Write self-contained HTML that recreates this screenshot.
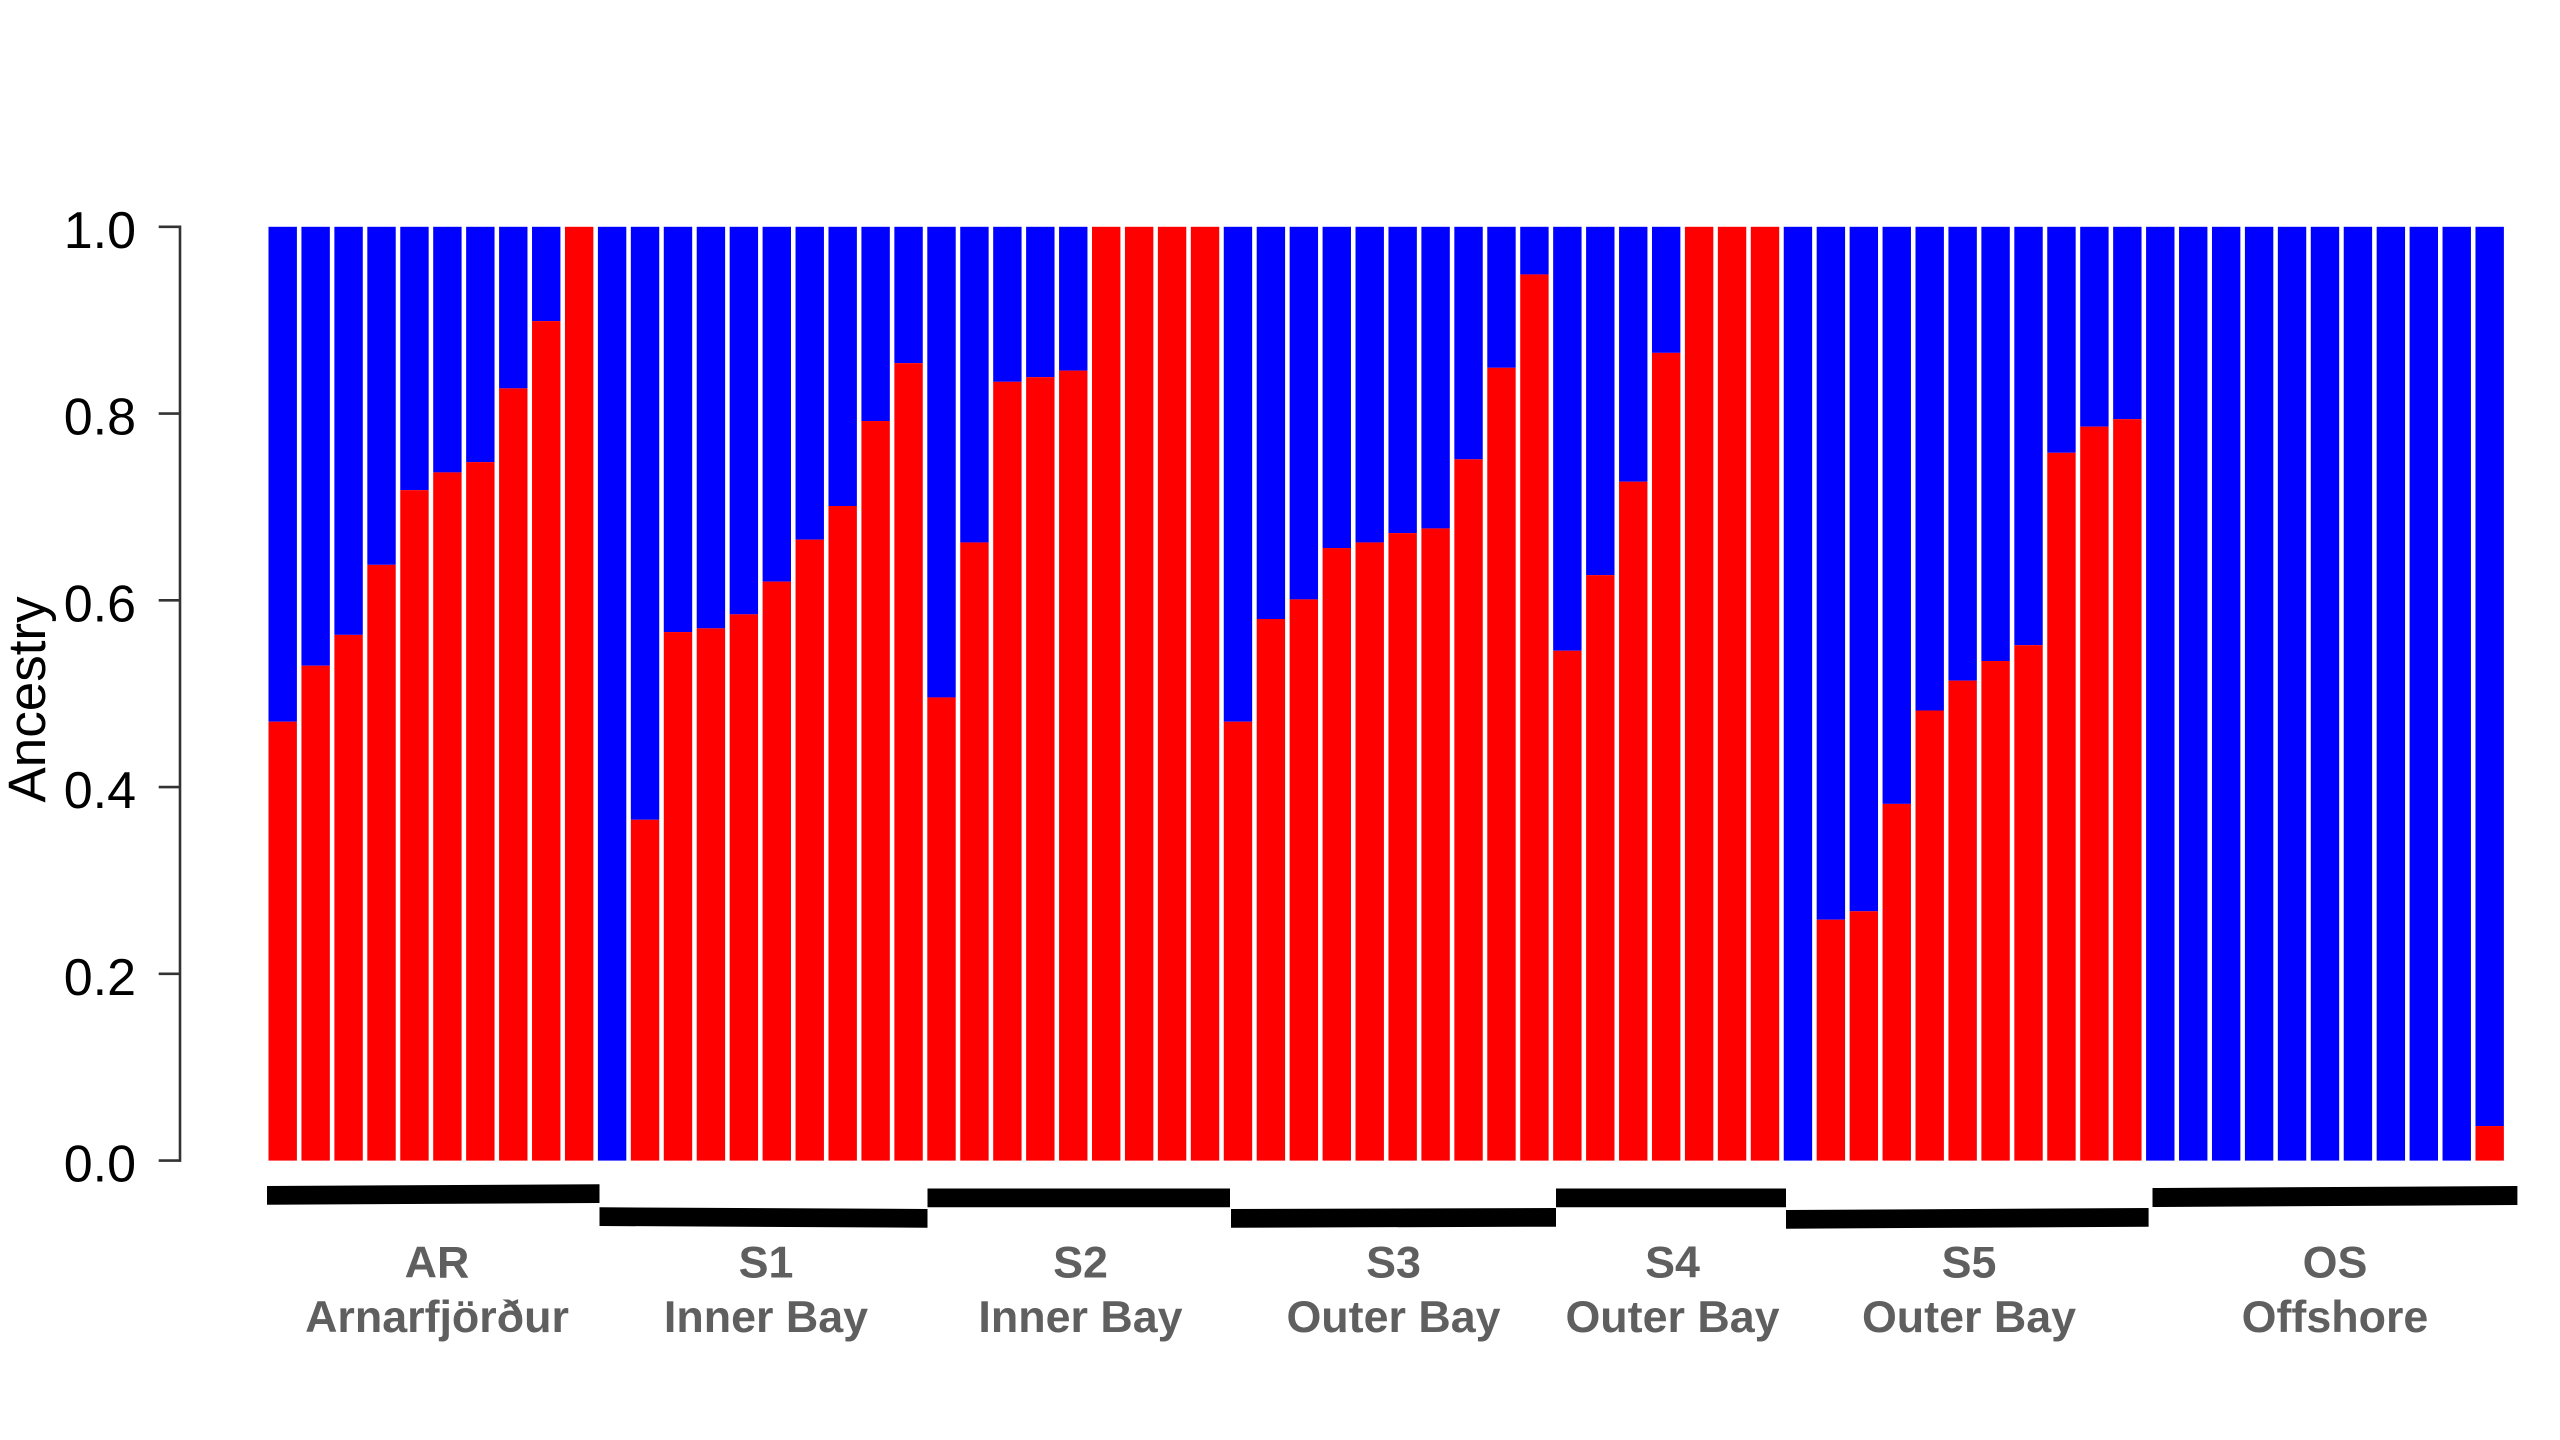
<!DOCTYPE html>
<html lang="en">
<head>
<meta charset="utf-8">
<title>Ancestry proportions by sampling location</title>
<style>
html,body{margin:0;padding:0;background:#fff;width:2560px;height:1440px;overflow:hidden}
svg{display:block;font-family:"Liberation Sans",sans-serif}
.tick-label{font-size:52px;fill:#000}
.group-label{font-size:44.8px;font-weight:bold;fill:#5f5f5f;text-anchor:middle}
</style>
</head>
<body>
<svg id="chart" width="2560" height="1440" viewBox="0 0 2560 1440" xmlns="http://www.w3.org/2000/svg">
  <rect x="0" y="0" width="2560" height="1440" fill="#fff"/>
  <g id="bars"></g>
  <g id="axis"></g>
  <text transform="translate(45,699.5) rotate(-90)" text-anchor="middle" font-size="53" fill="#000">Ancestry</text>
  <g fill="#000">
    <polygon points="267,1186 599.5,1184.3 599.5,1203 267,1204.7"/>
    <polygon points="599.5,1207.3 927.5,1209 927.5,1227.7 599.5,1226"/>
    <polygon points="927.5,1188.5 1230,1188.5 1230,1207.2 927.5,1207.2"/>
    <polygon points="1231,1209 1556,1208 1556,1226.7 1231,1227.7"/>
    <polygon points="1556,1188.5 1786,1188.5 1786,1207.2 1556,1207.2"/>
    <polygon points="1786,1210 2148.6,1208 2148.6,1226.7 1786,1228.7"/>
    <polygon points="2152.5,1188 2517.4,1186 2517.4,1205 2152.5,1207"/>
  </g>
  <g>
    <text class="group-label" x="437" y="1277.5">AR</text>
    <text class="group-label" x="437" y="1332">Arnarfjörður</text>
    <text class="group-label" x="766" y="1277.5">S1</text>
    <text class="group-label" x="766" y="1332">Inner Bay</text>
    <text class="group-label" x="1080.5" y="1277.5">S2</text>
    <text class="group-label" x="1080.5" y="1332">Inner Bay</text>
    <text class="group-label" x="1393.5" y="1277.5">S3</text>
    <text class="group-label" x="1393.5" y="1332">Outer Bay</text>
    <text class="group-label" x="1672.5" y="1277.5">S4</text>
    <text class="group-label" x="1672.5" y="1332">Outer Bay</text>
    <text class="group-label" x="1969" y="1277.5">S5</text>
    <text class="group-label" x="1969" y="1332">Outer Bay</text>
    <text class="group-label" x="2335" y="1277.5">OS</text>
    <text class="group-label" x="2335" y="1332">Offshore</text>
  </g>
</svg>
<script>
// Red ancestry proportion per individual, by sampling group. Blue is the remainder.
const redAR = [0.47, 0.53, 0.563, 0.638, 0.718, 0.737, 0.748, 0.827, 0.899, 1];
const redS1 = [0, 0.365, 0.566, 0.57, 0.585, 0.62, 0.665, 0.701, 0.792, 0.854];
const redS2 = [0.496, 0.662, 0.834, 0.839, 0.846, 1, 1, 1, 1];
const redS3 = [0.47, 0.58, 0.601, 0.656, 0.662, 0.672, 0.677, 0.751, 0.849, 0.949];
const redS4 = [0.546, 0.627, 0.727, 0.865, 1, 1, 1];
const redS5 = [0, 0.258, 0.267, 0.382, 0.482, 0.514, 0.535, 0.552, 0.758, 0.786, 0.794];
const redOS = [0, 0, 0, 0, 0, 0, 0, 0, 0, 0, 0.037];
const tickValues = [0, 0.2, 0.4, 0.6, 0.8, 1];
const tickLabels = ["0.0", "0.2", "0.4", "0.6", "0.8", "1.0"];

const SVG_NS = "http://www.w3.org/2000/svg";
const xLeft = 268.5, xStep = 32.94, barWidth = 28.4;
const yZero = 1160.6, yOne = 226.8;
function xScale(i) { return xLeft + i * xStep; }
function yScale(v) { return yZero - (yZero - yOne) * v; }

const allRed = [].concat(redAR, redS1, redS2, redS3, redS4, redS5, redOS);
const barsGroup = document.getElementById("bars");
allRed.forEach(function (value, i) {
  const blue = document.createElementNS(SVG_NS, "rect");
  
  
  blue.setAttribute("x", xScale(i));
  blue.setAttribute("y", yScale(1));
  blue.setAttribute("width", barWidth);
  blue.setAttribute("height", Math.max(0, yScale(value) - yScale(1)));
  blue.setAttribute("fill", "#0000ff");
  barsGroup.appendChild(blue);

  const red = document.createElementNS(SVG_NS, "rect");
  
  
  red.setAttribute("x", xScale(i));
  red.setAttribute("y", yScale(value));
  red.setAttribute("width", barWidth);
  red.setAttribute("height", Math.max(0, yScale(0) - yScale(value)));
  red.setAttribute("fill", "#ff0000");
  barsGroup.appendChild(red);
});

const axisGroup = document.getElementById("axis");
const axisLine = document.createElementNS(SVG_NS, "line");


axisLine.setAttribute("x1", 180);
axisLine.setAttribute("x2", 180);
axisLine.setAttribute("y1", yScale(1) - 1.25);
axisLine.setAttribute("y2", yScale(0) + 1.25);
axisLine.setAttribute("stroke", "#333");
axisLine.setAttribute("stroke-width", 2.6);
axisGroup.appendChild(axisLine);

tickValues.forEach(function (value, i) {
  const tick = document.createElementNS(SVG_NS, "line");
  
  
  tick.setAttribute("x1", 158.7);
  tick.setAttribute("x2", 180);
  tick.setAttribute("y1", yScale(value));
  tick.setAttribute("y2", yScale(value));
  tick.setAttribute("stroke", "#333");
  tick.setAttribute("stroke-width", 2.6);
  axisGroup.appendChild(tick);

  const label = document.createElementNS(SVG_NS, "text");
  
  
  label.setAttribute("class", "tick-label");
  label.setAttribute("x", 136);
  label.setAttribute("y", yScale(value) + 21);
  label.setAttribute("text-anchor", "end");
  label.textContent = tickLabels[i];
  axisGroup.appendChild(label);
});
</script>
</body>
</html>
